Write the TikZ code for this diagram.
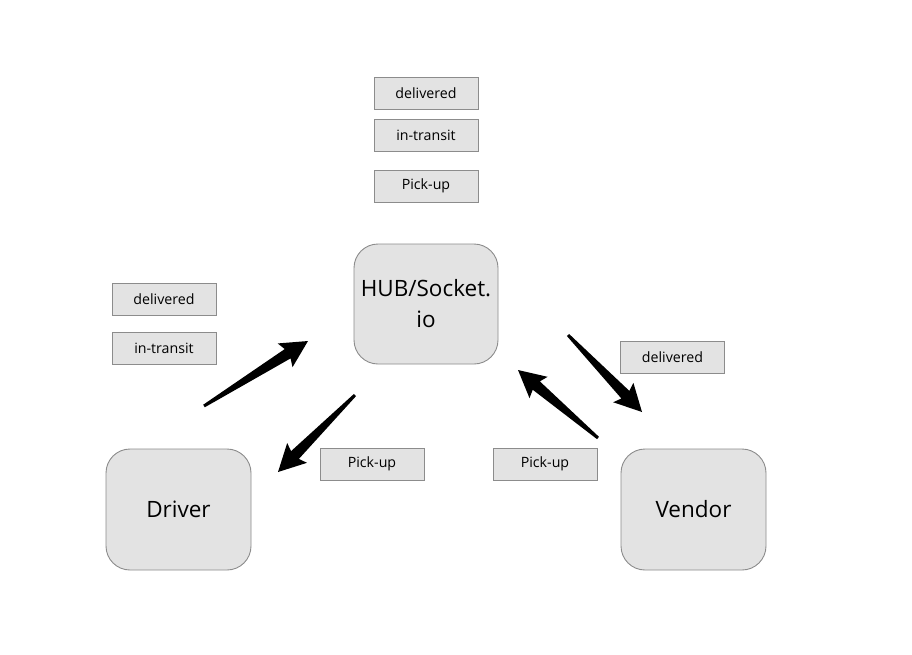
\documentclass[tikz,border=0pt]{standalone}
\usepackage{fontspec}
\setmainfont{Open Sans}
\usetikzlibrary{calc}
\definecolor{boxfill}{HTML}{E3E3E3}
\definecolor{boxline}{HTML}{8C8C8C}
\tikzset{
  tag/.style={draw=boxline, fill=boxfill, line width=0.9pt, minimum width=104pt, minimum height=32pt, inner sep=0pt, font=\fontsize{14.2}{16}\selectfont},
  bigbox/.style={draw=boxline, fill=boxfill, line width=0.9pt, rounded corners=24pt, minimum width=145pt, minimum height=121pt, inner sep=0pt, align=center, font=\fontsize{22.5}{31}\selectfont},
}
\newcommand\fatarrow[2]{%
  \fill[black] ($(#1)!1.5pt!90:(#2)$)
    -- ($($(#2)!24pt!(#1)$)!5.5pt!90:(#2)$)
    -- ($($(#2)!27pt!(#1)$)!14pt!90:(#2)$)
    -- (#2)
    -- ($($(#2)!27pt!(#1)$)!14pt!-90:(#2)$)
    -- ($($(#2)!24pt!(#1)$)!5.5pt!-90:(#2)$)
    -- ($(#1)!1.5pt!-90:(#2)$) -- cycle;}
\begin{document}
\begin{tikzpicture}[x=1pt,y=-1pt]
\useasboundingbox[fill=white] (0,0) rectangle (912,654);
\node[tag] (tdel) at (426,93) {delivered};
\node[tag] (ttra) at (426,135) {in-transit};
\node[tag] (tpic) at (426,186) {Pick-up};
\node[tag] (ldel) at (164,299) {delivered};
\node[tag] (ltra) at (164,348) {in-transit};
\node[tag] (lpic) at (372,464) {Pick-up};
\node[tag] (rpic) at (545,464) {Pick-up};
\node[tag] (rdel) at (672.5,357) {delivered};
\node[bigbox, minimum width=144pt, minimum height=120pt] (hub) at (426,304) {HUB/Socket.\\io};
\node[bigbox] (driver) at (178.5,509.5) {Driver};
\node[bigbox] (vendor) at (693.5,509.5) {Vendor};
\coordinate (a1t) at (204,406); \coordinate (a1h) at (308,341);
\coordinate (a2t) at (355,395); \coordinate (a2h) at (278,472);
\coordinate (a3t) at (598,438); \coordinate (a3h) at (518,370);
\coordinate (a4t) at (568,335); \coordinate (a4h) at (642,412);
\fatarrow{a1t}{a1h}
\fatarrow{a2t}{a2h}
\fatarrow{a3t}{a3h}
\fatarrow{a4t}{a4h}
\end{tikzpicture}
\end{document}
